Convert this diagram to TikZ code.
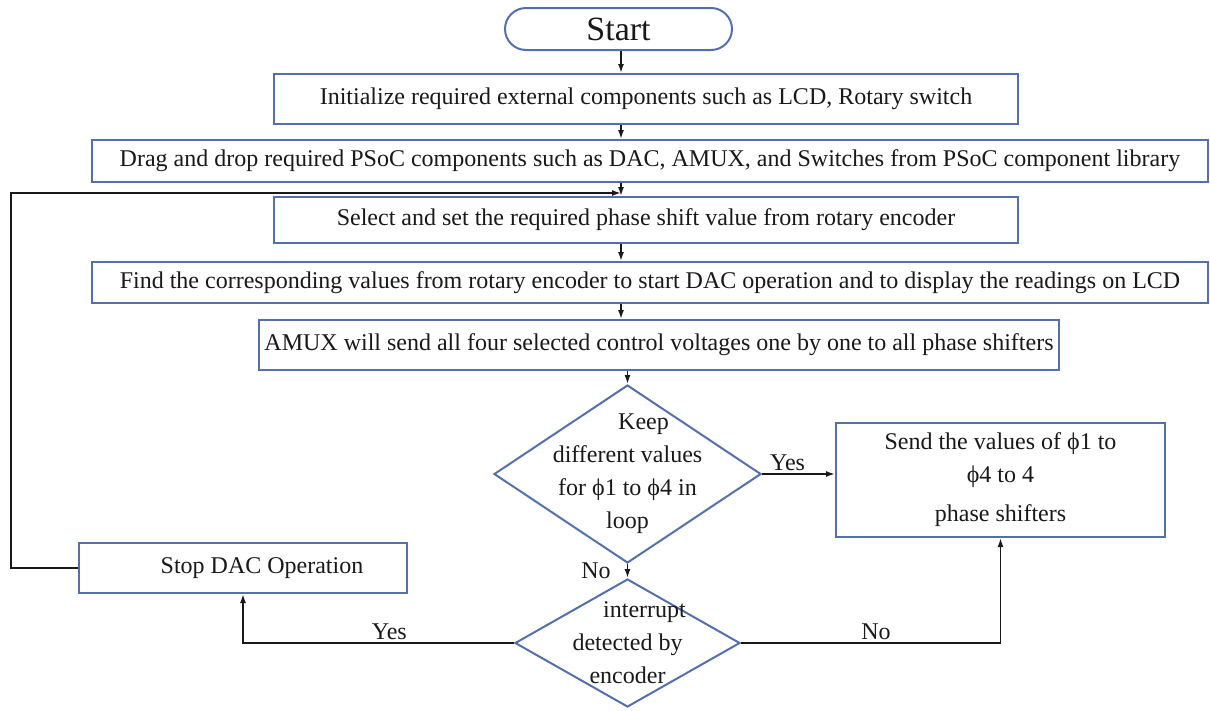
\documentclass[tikz,border=0pt]{standalone}
\usepackage{fontspec}
\setmainfont{Liberation Serif}
\usetikzlibrary{arrows.meta,positioning,shapes.geometric,shapes.misc}
\definecolor{frame}{RGB}{84,112,172}
\definecolor{ink}{RGB}{25,25,25}
\tikzset{
  >={Latex[length=9pt,width=6pt]},
  txt/.style={font=\fontsize{24}{33}\selectfont,text=ink},
  proc/.style={draw=frame,line width=2pt,fill=white,inner sep=0pt,align=center,txt},
  terminal/.style={rounded rectangle,draw=frame,line width=2pt,inner sep=0pt,
    font=\fontsize{34}{40}\selectfont,text=ink},
  decision/.style={diamond,draw=frame,line width=2pt,inner sep=0pt},
  flow/.style={->,line width=1.6pt,draw=ink},
  tag/.style={txt,inner sep=2pt},
}

\begin{document}
\begin{tikzpicture}[x=1pt,y=-1pt]
  \useasboundingbox (0,0) rectangle (1210,710);
  % main column
  \node[terminal,minimum width=227pt,minimum height=42pt] (start) at (618.5,29) {Start};
  \foreach \n/\cx/\cy/\w/\h/\t in {
      init/646/99/744/50/{Initialize required external components such as LCD, Rotary switch},
      drag/650/161/1116/42/{Drag and drop required PSoC components such as DAC, AMUX, and Switches from PSoC component library},
      select/646/220/744/46/{Select and set the required phase shift value from rotary encoder},
      find/650/282.5/1116/41/{Find the corresponding values from rotary encoder to start DAC operation and to display the readings on LCD},
      amux/659/345/800/50/{AMUX will send all four selected control voltages one by one to all phase shifters}}{
    \node[proc,minimum width=\w pt,minimum height=\h pt] (\n) at (\cx,\cy) {\t};
  }
  \coordinate (axis) at (621,0);
  \foreach \a/\b in {start/init,init/drag,drag/select,select/find,find/amux}
    \draw[flow] (\a.south -| axis) -- (\b.north -| axis);

  % decisions and side boxes
  \node[decision,minimum width=267pt,minimum height=178pt,
    label={[txt,align=center]center:\hspace*{32pt}Keep\\different values\\for ϕ1 to ϕ4 in\\loop}] (keep) at (627.5,474) {};
  \node[decision,minimum width=225pt,minimum height=128pt,
    label={[txt,align=center]center:\hspace*{34pt}interrupt\\detected by\\encoder}] (irq) at (627.5,643) {};
  \node[proc,minimum width=329pt,minimum height=114pt] (send) at (1000.5,480)
    {Send the values of ϕ1 to\\ϕ4 to 4\hspace*{34pt}\\[6pt]phase shifters};
  \node[proc,minimum width=328pt,minimum height=50pt] (stop) at (243,568)
    {\hspace*{38pt}Stop DAC Operation};

  \draw[flow] (amux.south -| keep.north) -- (keep.north);
  \draw[flow] (keep.east) -- node[tag,above,pos=0.35] {Yes} (keep.east -| send.west);
  \draw[flow] (keep.south) -- node[tag,left=14pt] {No} (irq.north);
  \draw[flow] (irq.west) -| node[tag,above,pos=0.23] {Yes} (stop.south);
  \draw[flow] (irq.east) -| node[tag,above,pos=0.26] {No} (send.south);

  % back to the phase selection
  \coordinate (corner) at (11,193);
  \draw[flow] (stop.west) -| (corner) -- (corner -| axis);
\end{tikzpicture}
\end{document}
